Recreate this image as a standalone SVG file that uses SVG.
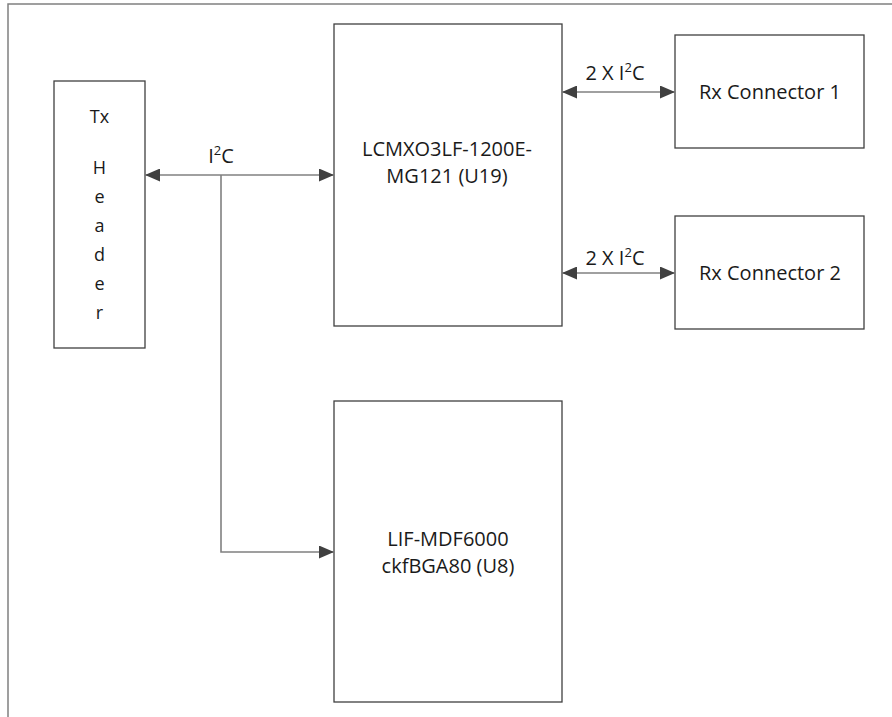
<svg xmlns="http://www.w3.org/2000/svg" width="892" height="717" viewBox="0 0 892 717">
<defs>
<marker id="ah" viewBox="0 0 15 13" refX="15" refY="6.5" markerWidth="15" markerHeight="13" markerUnits="userSpaceOnUse" orient="auto-start-reverse">
<path d="M0,0 L15,6.5 L0,13 Z" fill="#404040"/>
</marker>
<style>
.box{fill:#fff;stroke:#404040;stroke-width:1.3}
.con{fill:none;stroke:#808080;stroke-width:1.6}
.t{font-family:"Open Sans","Liberation Sans",sans-serif;font-size:20px;fill:#1a1a1a;text-anchor:middle}
.s{font-size:13px}
.hdr{font-size:18px}
</style>
</defs>
<rect width="892" height="717" fill="#fff"/>
<path d="M8,717 V4 H892" fill="none" stroke="#808080" stroke-width="1.5"/>

<g id="tx-header">
<rect class="box" x="54" y="81" width="91" height="267"/>
<text class="t hdr" x="99.5" y="123">Tx</text>
<text class="t hdr" x="99.5" y="174">H</text>
<text class="t hdr" x="99.5" y="203">e</text>
<text class="t hdr" x="99.5" y="232">a</text>
<text class="t hdr" x="99.5" y="261">d</text>
<text class="t hdr" x="99.5" y="290">e</text>
<text class="t hdr" x="99.5" y="319">r</text>
</g>

<g id="lcmxo">
<rect class="box" x="334" y="24" width="228" height="302"/>
<text class="t" x="447" y="156">LCMXO3LF-1200E-</text>
<text class="t" x="447" y="183">MG121 (U19)</text>
</g>

<g id="rx1">
<rect class="box" x="675" y="35" width="189" height="113"/>
<text class="t" x="770" y="99">Rx Connector 1</text>
</g>

<g id="rx2">
<rect class="box" x="675" y="216" width="189" height="113"/>
<text class="t" x="770" y="280">Rx Connector 2</text>
</g>

<g id="lif">
<rect class="box" x="334" y="401" width="228" height="301"/>
<text class="t" x="448" y="546">LIF-MDF6000</text>
<text class="t" x="448" y="573">ckfBGA80 (U8)</text>
</g>

<g id="connectors">
<line class="con" x1="145" y1="175" x2="334" y2="175" marker-start="url(#ah)" marker-end="url(#ah)"/>
<polyline class="con" points="221,175 221,552 334,552" marker-end="url(#ah)"/>
<line class="con" x1="562" y1="92" x2="675" y2="92" marker-start="url(#ah)" marker-end="url(#ah)"/>
<line class="con" x1="562" y1="273" x2="675" y2="273" marker-start="url(#ah)" marker-end="url(#ah)"/>
<text class="t" x="221" y="163">I<tspan class="s" dy="-8">2</tspan><tspan dy="8">C</tspan></text>
<text class="t" x="615" y="80">2 X I<tspan class="s" dy="-8">2</tspan><tspan dy="8">C</tspan></text>
<text class="t" x="615" y="265">2 X I<tspan class="s" dy="-8">2</tspan><tspan dy="8">C</tspan></text>
</g>
</svg>
